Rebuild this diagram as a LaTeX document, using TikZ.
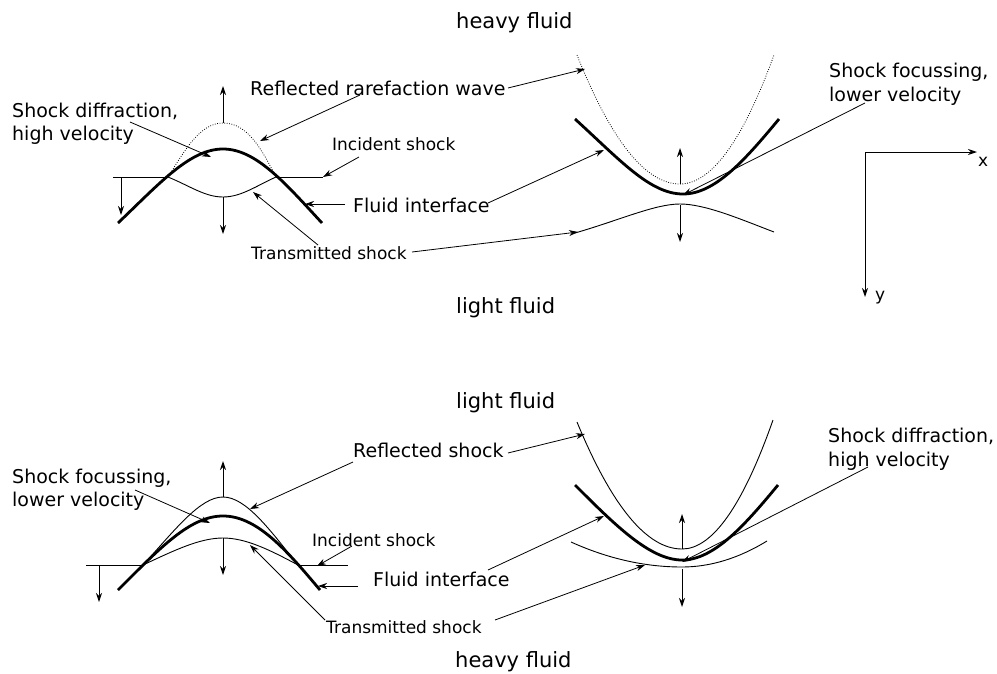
\documentclass[tikz,border=0pt]{standalone}
\usepackage{fontspec}
\setmainfont{DejaVu Sans}
\usetikzlibrary{arrows.meta}
\begin{document}
\begin{tikzpicture}[x=1pt,y=-1pt,
  bigl/.style={font=\fontsize{21}{25}\selectfont, inner sep=0pt, anchor=base west},
  midl/.style={font=\fontsize{19}{23}\selectfont, inner sep=0pt, anchor=base west},
  smalll/.style={font=\fontsize{17}{20}\selectfont, inner sep=0pt, anchor=base west},
  ptr/.style={-{Stealth[length=9pt,width=6pt]}, line width=0.8pt},
  vel/.style={-{Stealth[length=9pt,width=6pt]}, line width=1pt},
  wave/.style={line width=0.9pt},
  iface/.style={line width=2.8pt},
  rare/.style={line width=0.8pt, dash pattern=on 0.8pt off 1.6pt}]
\useasboundingbox (0,0) rectangle (997,673);

% ---------------- big labels ----------------
\node[bigl] (hf1) at (456,28) {heavy fluid};
\node[bigl] (lf1) at (456,313) {light fluid};
\node[bigl] (lf2) at (456,408) {light fluid};
\node[bigl] (hf2) at (455,667) {heavy fluid};

% ---------------- top-left panel ----------------
\coordinate (A1) at (168,177);
\coordinate (A2) at (276,177);
\draw[wave] (113,177) -- (A1);
\draw[wave] (A2) -- (323,177);
\draw[rare] (A1) .. controls (185,150) and (200,123) .. (223,123)
                 .. controls (248,123) and (262,150) .. (A2);
\draw[iface] (118,223) .. controls (160,183) and (190,149) .. (223,149)
                 .. controls (256,149) and (285,183) .. (322,223);
\draw[wave] (A1) .. controls (190,186) and (205,197) .. (223,197)
                 .. controls (241,197) and (256,186) .. (A2);
\coordinate (v1a) at (223,123); \coordinate (v1b) at (223,86);
\coordinate (v2a) at (223,197); \coordinate (v2b) at (223,234);
\coordinate (v3a) at (121,177); \coordinate (v3b) at (121,215);
\draw[vel] (v1a) -- (v1b);
\draw[vel] (v2a) -- (v2b);
\draw[vel] (v3a) -- (v3b);

% ---------------- top-right panel ----------------
\draw[rare] (577,55) .. controls (611.3,141) and (645.7,184) .. (680,184)
                 .. controls (711.3,184) and (742.7,141) .. (774,55);
\draw[iface] (575,119) .. controls (620,160) and (650,194) .. (683,194)
                 .. controls (715,194) and (745,160) .. (779,119);
\draw[wave] (575,233) .. controls (620,220) and (655,204) .. (680,204)
                 .. controls (705,204) and (740,219) .. (774,232);
\coordinate (v4a) at (680,184); \coordinate (v4b) at (680,148);
\coordinate (v5a) at (680,205); \coordinate (v5b) at (680,242);
\draw[vel] (v4a) -- (v4b);
\draw[vel] (v5a) -- (v5b);

% axes
\coordinate (O) at (865,152);
\coordinate (X) at (977,152);
\coordinate (Y) at (865,297);
\draw[vel] (O) -- (X);
\draw[vel] (O) -- (Y);
\node[smalll] (xl) at (978,166) {x};
\node[smalll] (yl) at (875,300) {y};

% ---------------- top labels & pointers ----------------
\node[midl] (sd1a) at (12,117) {Shock diffraction,};
\node[midl] (sd1b) at (12,140) {high velocity};
\node[midl] (rr) at (250,95) {Reflected rarefaction wave};
\node[smalll] (is1) at (332,150) {Incident shock};
\node[midl] (fi1) at (353,212) {Fluid interface};
\node[smalll] (ts1) at (251,259) {Transmitted shock};
\node[midl] (sf1a) at (829,77) {Shock focussing,};
\node[midl] (sf1b) at (829,101) {lower velocity};

\coordinate (p1s) at (130,122); \coordinate (p1e) at (211,157);
\coordinate (p2s) at (360,95);  \coordinate (p2e) at (260,141);
\coordinate (p3s) at (508,88);  \coordinate (p3e) at (585,69);
\coordinate (p4s) at (359,157); \coordinate (p4e) at (323,177);
\coordinate (p5s) at (345,204); \coordinate (p5e) at (305,204);
\coordinate (p6s) at (488,203); \coordinate (p6e) at (604,150);
\coordinate (p7s) at (318,245); \coordinate (p7e) at (253,192);
\coordinate (p8s) at (412,252); \coordinate (p8e) at (578,232);
\coordinate (p9s) at (865,103); \coordinate (p9e) at (683,195);
\foreach \p in {p1,p2,p3,p4,p5,p6,p7,p8,p9}
  \draw[ptr] (\p s) -- (\p e);

% ---------------- bottom-left panel ----------------
\coordinate (B1) at (143,565);
\coordinate (B2) at (298,565);
\draw[wave] (86,565) -- (B1);
\draw[wave] (B2) -- (348,565);
\draw[wave] (B1) .. controls (175,530) and (200,497) .. (223,497)
                 .. controls (246,497) and (270,530) .. (B2);
\draw[iface] (118,590) .. controls (160,548) and (190,516) .. (223,516)
                 .. controls (256,516) and (285,548) .. (320,590);
\draw[wave] (B1) .. controls (175,550) and (200,538) .. (223,538)
                 .. controls (246,538) and (270,550) .. (B2);
\coordinate (w1a) at (223,497); \coordinate (w1b) at (223,461);
\coordinate (w2a) at (223,538); \coordinate (w2b) at (223,575);
\coordinate (w3a) at (99,565);  \coordinate (w3b) at (99,602);
\draw[vel] (w1a) -- (w1b);
\draw[vel] (w2a) -- (w2b);
\draw[vel] (w3a) -- (w3b);

% ---------------- bottom-right panel ----------------
\draw[wave] (577,422) .. controls (612,506.7) and (647,549) .. (682,549)
                 .. controls (712.3,549) and (742.7,506) .. (773,420);
\draw[iface] (575,485) .. controls (615,525) and (650,560) .. (682,560)
                 .. controls (714,560) and (745,525) .. (778,485);
\draw[wave] (571,542) .. controls (608,558.7) and (645,567) .. (682,567)
                 .. controls (710.3,567) and (738.7,558.3) .. (767,541);
\coordinate (w4a) at (682,549); \coordinate (w4b) at (682,514);
\coordinate (w5a) at (682,569); \coordinate (w5b) at (682,607);
\draw[vel] (w4a) -- (w4b);
\draw[vel] (w5a) -- (w5b);

% ---------------- bottom labels & pointers ----------------
\node[midl] (sf2a) at (12,483) {Shock focussing,};
\node[midl] (sf2b) at (12,506) {lower velocity};
\node[midl] (rs) at (353,457) {Reflected shock};
\node[smalll] (is2) at (312,546) {Incident shock};
\node[midl] (fi2) at (373,586) {Fluid interface};
\node[smalll] (ts2) at (326,633) {Transmitted shock};
\node[midl] (sd2a) at (828,442) {Shock diffraction,};
\node[midl] (sd2b) at (828,466) {high velocity};

\coordinate (q1s) at (135,490); \coordinate (q1e) at (210,523);
\coordinate (q2s) at (353,462); \coordinate (q2e) at (250,509);
\coordinate (q3s) at (508,453); \coordinate (q3e) at (585,434);
\coordinate (q4s) at (352,546); \coordinate (q4e) at (317,566);
\coordinate (q5s) at (358,586); \coordinate (q5e) at (318,586);
\coordinate (q6s) at (488,570); \coordinate (q6e) at (604,516);
\coordinate (q7s) at (325,620); \coordinate (q7e) at (250,545);
\coordinate (q8s) at (495,620); \coordinate (q8e) at (645,565);
\coordinate (q9s) at (868,467); \coordinate (q9e) at (682,562);
\foreach \p in {q1,q2,q3,q4,q5,q6,q7,q8,q9}
  \draw[ptr] (\p s) -- (\p e);
\end{tikzpicture}
\end{document}
